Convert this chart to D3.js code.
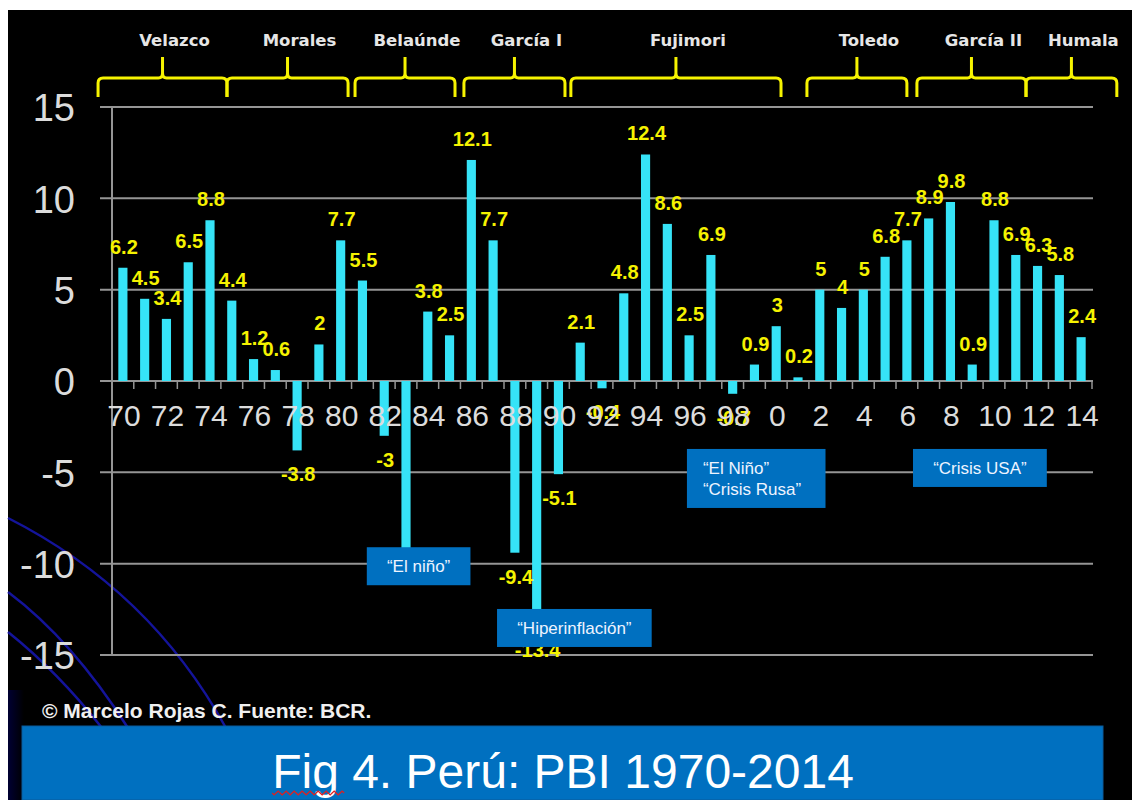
<!DOCTYPE html>
<html lang="es">
<head>
    <meta charset="UTF-8">
    <title>Perú: PBI 1970-2014</title>
    <script src="https://cdn.jsdelivr.net/npm/d3@7/dist/d3.min.js"></script>
    <style>
        body { margin: 0; background: #fff; }
        svg { display: block; }
    </style>
</head>
<body>
    <svg width="1132" height="800"></svg>

    <script>
        // data
        var years = [1970,1971,1972,1973,1974,1975,1976,1977,1978,1979,
                     1980,1981,1982,1983,1984,1985,1986,1987,1988,1989,
                     1990,1991,1992,1993,1994,1995,1996,1997,1998,1999,
                     2000,2001,2002,2003,2004,2005,2006,2007,2008,2009,
                     2010,2011,2012,2013,2014]
        var pbi = [6.2,4.5,3.4,6.5,8.8,4.4,1.2,0.6,-3.8,2,
                   7.7,5.5,-3,-9.3,3.8,2.5,12.1,7.7,-9.4,-13.4,
                   -5.1,2.1,-0.4,4.8,12.4,8.6,2.5,6.9,-0.7,0.9,
                   3,0.2,5,4,5,6.8,7.7,8.9,9.8,0.9,
                   8.8,6.9,6.3,5.8,2.4]
        var tickYears = [1970,1972,1974,1976,1978,1980,1982,1984,1986,1988,1990,1992,1994,1996,1998,
                         2000,2002,2004,2006,2008,2010,2012,2014]
        var tickLabels = ['70','72','74','76','78','80','82','84','86','88','90','92','94','96','98',
                          '0','2','4','6','8','10','12','14']
        var yTicks = [-15,-10,-5,0,5,10,15]

        var presidents = ['Velazco','Morales','Belaúnde','García I','Fujimori','Toledo','García II','Humala']
        var termStart = [1969.36,1975.28,1981.16,1986.16,1991.07,2001.91,2006.96,2011.97]
        var termEnd   = [1975.28,1980.84,1985.75,1990.8,2000.72,2006.5,2011.97,2016.14]

        // boxed notes: anchored at (year, value) = top-left corner
        var noteText = [['“El niño”'], ['“Hiperinflación”'], ['“El Niño”','“Crisis Rusa”'], ['“Crisis USA”']]
        var noteYear = [1981.7, 1987.68, 1996.4, 2006.78]
        var noteValue = [-9.1, -12.48, -3.72, -3.72]
        var noteAlign = ['middle','middle','start','middle']

        var svg = d3.select('svg')
        var W = +svg.attr('width'), H = +svg.attr('height')

        var plotLeft = 112, plotRight = 1092, plotTop = 107, plotBottom = 655

        // black slide background
        svg.append('rect').attr('x', 8).attr('y', 10).attr('width', W - 8).attr('height', H - 10).attr('fill', '#000')

        var grad = svg.append('defs').append('linearGradient').attr('id', 'corner')
            .attr('x1', 0).attr('y1', 0).attr('x2', 1).attr('y2', 0)
        grad.append('stop').attr('offset', '0%').attr('stop-color', '#000033')
        grad.append('stop').attr('offset', '100%').attr('stop-color', '#000000')
        svg.append('rect').attr('x', 8).attr('y', 690).attr('width', 16).attr('height', 110).attr('fill', 'url(#corner)')

        // decorative arcs bottom-left
        var arcs = ['M8,518 Q150,590 226,728', 'M8,592 Q72,640 128,728', 'M8,632 Q58,672 102,728']
        svg.selectAll('path.arc').data(arcs).enter().append('path')
            .attr('class', 'arc')
            .attr('d', function (d) { return d })
            .attr('fill', 'none').attr('stroke', '#14149a').attr('stroke-width', 2.5)

        // scales
        var x = d3.scaleBand().domain(years).range([plotLeft, plotRight]).paddingInner(0.58).paddingOuter(0.29)
        var xYear = d3.scaleLinear().domain([1970, 2015]).range([plotLeft, plotRight])
        var y = d3.scaleLinear().domain([-15, 15]).range([plotBottom, plotTop])

        // gridlines
        svg.append('g').selectAll('line').data(yTicks).enter().append('line')
            .attr('x1', plotLeft - 12).attr('x2', plotRight + 1)
            .attr('y1', function (d) { return y(d) }).attr('y2', function (d) { return y(d) })
            .attr('stroke', '#959595').attr('stroke-width', 2)

        // y axis line
        svg.append('line').attr('x1', plotLeft).attr('x2', plotLeft).attr('y1', plotTop).attr('y2', plotBottom)
            .attr('stroke', '#959595').attr('stroke-width', 2)

        // small ticks on the zero line, at band edges
        svg.append('g').selectAll('line').data(d3.range(years.length + 1)).enter().append('line')
            .attr('x1', function (i) { return xYear(1970 + i) }).attr('x2', function (i) { return xYear(1970 + i) })
            .attr('y1', y(0)).attr('y2', y(0) + 8)
            .attr('stroke', '#959595').attr('stroke-width', 1.5)

        // y labels (plain hyphen, as on the slide)
        var axisY = d3.axisLeft(y).tickValues(yTicks).tickSize(0).tickPadding(37)
            .tickFormat(function (d) { return String(d) })
        var gy = svg.append('g').attr('transform', 'translate(' + plotLeft + ',0)').call(axisY)
        gy.select('.domain').remove()
        gy.selectAll('text').attr('font-family', 'Liberation Sans, Arial, sans-serif')
            .attr('font-size', 38).attr('fill', '#dcdcdc').attr('dy', '0.36em')

        // bars
        svg.append('g').selectAll('rect').data(pbi).enter().append('rect')
            .attr('x', function (d, i) { return x(years[i]) })
            .attr('width', x.bandwidth())
            .attr('y', function (d) { return d >= 0 ? y(d) : y(0) })
            .attr('height', function (d) { return Math.abs(y(d) - y(0)) })
            .attr('fill', '#36e3f7')

        // value labels
        svg.append('g').selectAll('text').data(pbi).enter().append('text')
            .attr('x', function (d, i) { return x(years[i]) + x.bandwidth() / 2 + 1 })
            .attr('y', function (d) { return d >= 0 ? y(d) - 14 : y(d) + 31 })
            .attr('text-anchor', 'middle')
            .attr('font-family', 'Liberation Sans, Arial, sans-serif')
            .attr('font-weight', 'bold').attr('font-size', 20)
            .attr('fill', '#f5f200')
            .text(function (d) { return String(d) })

        // x labels
        var axisX = d3.axisBottom(x).tickValues(tickYears).tickSize(0).tickPadding(34)
            .tickFormat(function (d) { return tickLabels[tickYears.indexOf(d)] })
        var gx = svg.append('g').attr('transform', 'translate(0,' + y(0) + ')').call(axisX)
        gx.select('.domain').remove()
        gx.selectAll('text').attr('font-family', 'Liberation Sans, Arial, sans-serif')
            .attr('font-size', 30).attr('fill', '#dcdcdc').attr('dy', '0.35em')
            .attr('transform', 'translate(1,0)')

        // braces for presidential terms
        function brace(x0, x1) {
            var m = (x0 + x1) / 2, h = 78, b = 97, t = 57
            return 'M' + x0 + ',' + b + ' V' + (h + 5) + ' Q' + x0 + ',' + h + ' ' + (x0 + 5) + ',' + h +
                ' H' + (m - 4) + ' Q' + m + ',' + h + ' ' + m + ',' + (h - 5) + ' V' + t +
                ' M' + m + ',' + (h - 5) + ' Q' + m + ',' + h + ' ' + (m + 4) + ',' + h +
                ' H' + (x1 - 5) + ' Q' + x1 + ',' + h + ' ' + x1 + ',' + (h + 5) + ' V' + b
        }
        var gb = svg.append('g')
        gb.selectAll('path').data(presidents).enter().append('path')
            .attr('d', function (d, i) { return brace(xYear(termStart[i]), xYear(termEnd[i])) })
            .attr('fill', 'none').attr('stroke', '#f6f300').attr('stroke-width', 3)
            .attr('stroke-linejoin', 'round')
        gb.selectAll('text').data(presidents).enter().append('text')
            .attr('x', function (d, i) { return (xYear(termStart[i]) + xYear(termEnd[i])) / 2 + 12 })
            .attr('y', 46)
            .attr('text-anchor', 'middle')
            .attr('font-family', 'DejaVu Sans, Verdana, sans-serif')
            .attr('font-weight', 'bold').attr('font-size', 16.5)
            .attr('fill', '#e6e6e6')
            .text(function (d) { return d })

        // boxed notes
        var notes = svg.append('g').selectAll('g').data(noteText).enter().append('g')
            .attr('transform', function (d, i) { return 'translate(' + xYear(noteYear[i]) + ',' + y(noteValue[i]) + ')' })
        notes.each(function (lines, i) {
            var g = d3.select(this)
            var box = g.append('rect').attr('fill', '#0070c0')
            var txt = g.append('text')
                .attr('font-family', 'Liberation Sans, Arial, sans-serif')
                .attr('font-size', 17).attr('fill', '#eef4ff')
            txt.selectAll('tspan').data(lines).enter().append('tspan')
                .attr('x', 0).attr('y', function (l, j) { return 25 + j * 21 })
                .text(function (l) { return l })
            var bb = txt.node().getBBox()
            var w = bb.width + 40, h = lines.length * 21 + 17
            box.attr('width', w).attr('height', h)
            if (noteAlign[i] === 'middle') {
                txt.selectAll('tspan').attr('x', w / 2).attr('text-anchor', 'middle')
            } else {
                txt.selectAll('tspan').attr('x', 16)
            }
        })

        // source
        svg.append('text').attr('x', 42).attr('y', 718)
            .attr('font-family', 'Liberation Sans, Arial, sans-serif')
            .attr('font-weight', 'bold').attr('font-size', 21)
            .attr('fill', '#f0f0f0')
            .text('© Marcelo Rojas C. Fuente: BCR.')

        // title band
        svg.append('rect').attr('x', 22).attr('y', 726).attr('width', 1081).attr('height', H - 726)
            .attr('fill', '#0070c0').attr('stroke', '#0a5a9a').attr('stroke-width', 1)
        var title = svg.append('text').attr('x', 563).attr('y', 788)
            .attr('text-anchor', 'middle')
            .attr('font-family', 'Liberation Sans, Arial, sans-serif')
            .attr('font-size', 48).attr('fill', '#ffffff')
            .text('Fig 4. Perú: PBI 1970-2014')

        // spell-check squiggle under "Fig"
        var tb = title.node().getBBox()
        var sq = 'M' + tb.x + ',793'
        for (var k = 0; k < 18; k++) {
            sq += ' l2,' + (k % 2 ? -2 : 2) + ' l2,' + (k % 2 ? 2 : -2)
        }
        svg.append('path').attr('d', sq).attr('fill', 'none').attr('stroke', '#e02020').attr('stroke-width', 1.2)
    </script>
</body>
</html>
